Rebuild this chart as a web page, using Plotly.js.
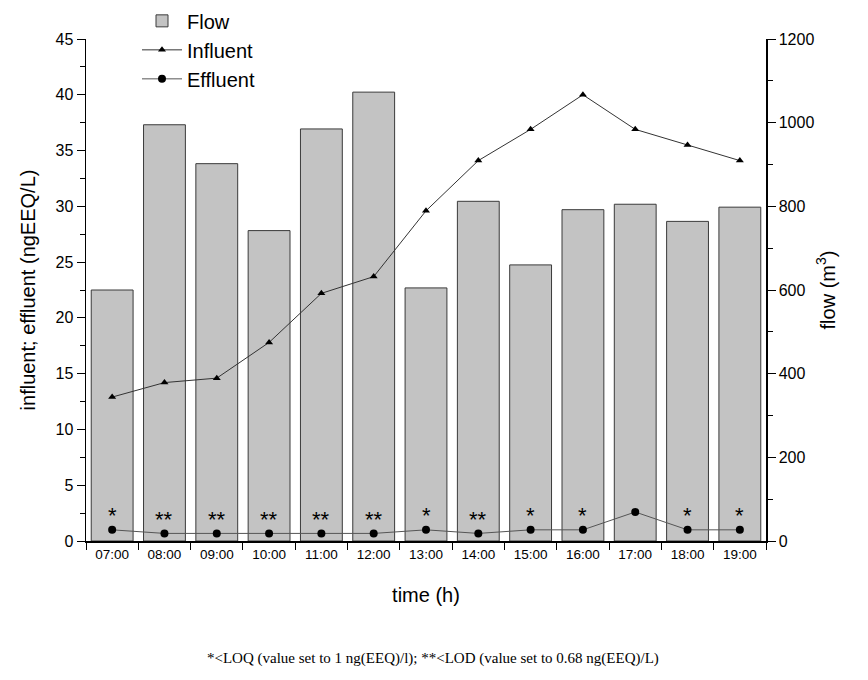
<!DOCTYPE html>
<html>
<head>
<meta charset="utf-8">
<script src="https://cdn.plot.ly/plotly-3.0.1.min.js"></script>
<style>html,body{margin:0;padding:0;background:#fff;}#chart{width:868px;height:680px;}</style>
</head>
<body>
<div id="chart"></div>
<script>
const times = ["07:00","08:00","09:00","10:00","11:00","12:00","13:00","14:00","15:00","16:00","17:00","18:00","19:00"];
const flow = [600, 995, 902, 742, 985, 1073, 605, 812, 660, 792, 805, 764, 798];
const influent = [12.9, 14.2, 14.6, 17.8, 22.2, 23.7, 29.6, 34.1, 36.9, 40.0, 36.9, 35.5, 34.1];
const effluent = [1, 0.68, 0.68, 0.68, 0.68, 0.68, 1, 0.68, 1, 1, 2.6, 1, 1];
const flags = ["*","**","**","**","**","**","*","**","*","*","","*","*"];
const footnote = "*<LOQ (value set to 1 ng(EEQ)/l); **<LOD (value set to 0.68 ng(EEQ)/L)";

const font = "Liberation Sans, Arial, sans-serif";

const traces = [
  {type:'bar', name:'Flow', x:times, y:flow, yaxis:'y',
   marker:{color:'#c3c3c3', line:{color:'#3a3a3a', width:1}}},
  {type:'scatter', mode:'lines+markers', name:'Influent', x:times, y:influent, yaxis:'y2',
   line:{color:'#333', width:1}, marker:{symbol:'triangle-up', size:7, color:'#000'}},
  {type:'scatter', mode:'lines+markers', name:'Effluent', x:times, y:effluent, yaxis:'y2',
   line:{color:'#555', width:1}, marker:{symbol:'circle', size:8, color:'#000'}}
];

const annotations = [];
times.forEach((t,i) => {
  if (flags[i] === "") return;
  annotations.push({
    x:t, y:effluent[i], xref:'x', yref:'y2', text:flags[i], showarrow:false,
    yshift:14, font:{family:font, size:22, color:'#000'}
  });
});
annotations.push({
  xref:'paper', yref:'paper', x:0.51, y:-0.235, xanchor:'center', yanchor:'middle',
  text:footnote, showarrow:false,
  font:{family:'Liberation Serif, Times New Roman, serif', size:15, color:'#000'}
});

const layout = {
  width:868, height:680,
  margin:{l:86, r:102, t:39, b:139, autoexpand:false},
  paper_bgcolor:'#fff', plot_bgcolor:'#fff',
  font:{family:font, color:'#000'},
  bargap:0.2,
  showlegend:true,
  legend:{x:0.075, y:1.075, xanchor:'left', yanchor:'top', bgcolor:'rgba(0,0,0,0)',
          font:{family:font, size:20, color:'#000'}, tracegroupgap:0, itemwidth:40},
  xaxis:{type:'category', range:[-0.5,12.5], tickson:'boundaries', ticks:'outside', ticklen:7,
         tickcolor:'#000', showline:true, linecolor:'#000', linewidth:1.5, showgrid:false, zeroline:false,
         tickfont:{size:13.5}, title:{text:'time (h)', font:{size:20}, standoff:27}},
  yaxis:{range:[0,1200], side:'right', dtick:200, ticks:'outside', ticklen:8, tickcolor:'#000',
         minor:{dtick:100, ticks:'outside', ticklen:5, tickcolor:'#000', showgrid:false},
         showline:true, linecolor:'#000', linewidth:1.5, showgrid:false, zeroline:false,
         tickfont:{size:16}, title:{text:'flow (m<sup>3</sup>)', font:{size:20}, standoff:7}},
  yaxis2:{range:[0,45], side:'left', overlaying:'y', dtick:5, ticks:'outside', ticklen:8, tickcolor:'#000',
          minor:{dtick:2.5, ticks:'outside', ticklen:5, tickcolor:'#000', showgrid:false},
          showline:true, linecolor:'#000', linewidth:1.5, showgrid:false, zeroline:false,
          tickfont:{size:16}, title:{text:'influent; effluent (ngEEQ/L)', font:{size:20}, standoff:14}},
  annotations: annotations
};

Plotly.newPlot('chart', traces, layout, {displayModeBar:false, staticPlot:true});
</script>
</body>
</html>
